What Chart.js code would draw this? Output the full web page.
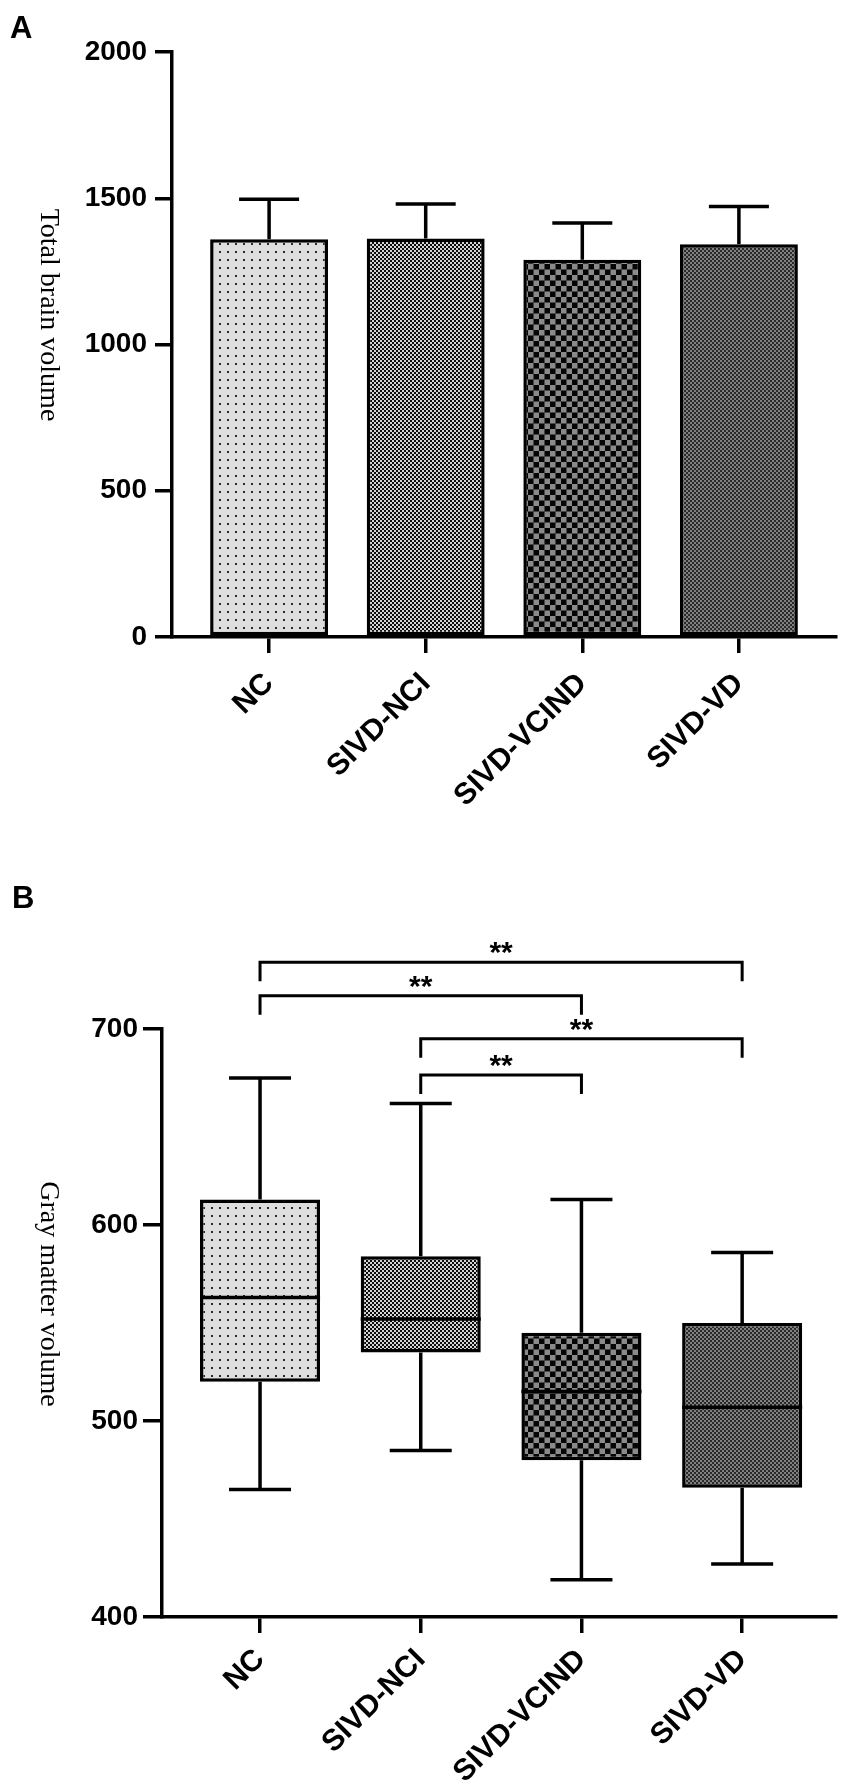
<!DOCTYPE html>
<html>
<head>
<meta charset="utf-8">
<script src="https://cdn.jsdelivr.net/npm/chart.js@4.4.1/dist/chart.umd.min.js"></script>
<style>
  html, body { margin: 0; padding: 0; background: #fff; }
  canvas { display: block; }
</style>
</head>
<body>
<canvas id="brainChart" width="854" height="860"></canvas>
<canvas id="grayChart" width="854" height="923"></canvas>
<script>
//** DATA */
const categories = ['NC', 'SIVD-NCI', 'SIVD-VCIND', 'SIVD-VD'];

// panel A: mean and SD of total brain volume
const brainMean = [1360, 1362, 1290, 1343];
const brainSD = [137, 118, 125, 129];
const brainTicks = [0, 500, 1000, 1500, 2000];

// panel B: box plot of gray matter volume
const grayMin = [465, 485, 419, 427];
const grayQ1 = [520, 535, 480, 466];
const grayMedian = [563, 552, 515, 507];
const grayQ3 = [613, 584, 545, 550];
const grayMax = [675, 662, 613, 586];
const grayTicks = [400, 500, 600, 700];

// significance brackets (group pairs, bracket height in axis units)
const sigPairs = [[0, 3], [0, 2], [1, 3], [1, 2]];
const sigLevel = [734, 717, 695, 676.5];
const sigText = ['**', '**', '**', '**'];

const tickFont = { family: "'Liberation Sans', Arial, sans-serif", size: 28, weight: 'bold' };
const catFont = { family: "'Liberation Sans', Arial, sans-serif", size: 30, weight: 'bold' };

//** FILL PATTERNS */
function makePattern(kind) {
  const c = document.createElement('canvas');
  const g = c.getContext('2d');
  if (kind === 'dots') {
    c.width = 8; c.height = 8;
    g.fillStyle = '#dedede'; g.fillRect(0, 0, 8, 8);
    g.fillStyle = '#2a2a2a'; g.fillRect(3, 3, 2, 2);
  } else if (kind === 'fine') {
    c.width = 4; c.height = 4;
    g.fillStyle = '#0c0c0c'; g.fillRect(0, 0, 4, 4);
    g.fillStyle = '#d4d4d4'; g.fillRect(0, 0, 2, 2); g.fillRect(2, 2, 2, 2);
  } else if (kind === 'coarse') {
    c.width = 11; c.height = 11;
    g.fillStyle = '#050505'; g.fillRect(0, 0, 11, 11);
    g.fillStyle = '#8a8a8a'; g.fillRect(0, 0, 5.5, 5.5); g.fillRect(5.5, 5.5, 5.5, 5.5);
  } else {
    c.width = 4; c.height = 4;
    g.fillStyle = '#2a2a2a'; g.fillRect(0, 0, 4, 4);
    g.fillStyle = '#808080'; g.fillRect(0, 0, 2, 2); g.fillRect(2, 2, 2, 2);
  }
  return g.createPattern(c, 'repeat');
}
const groupFills = [makePattern('dots'), makePattern('fine'), makePattern('coarse'), makePattern('dark')];

//** PANEL LETTER + ROTATED Y TITLE */
const panelDecor = {
  id: 'panelDecor',
  afterDraw(chart, args, opts) {
    const ctx = chart.ctx;
    ctx.save();
    ctx.fillStyle = '#000';
    ctx.font = "bold 31px 'Liberation Sans', Arial, sans-serif";
    ctx.textBaseline = 'alphabetic';
    ctx.textAlign = 'left';
    ctx.fillText(opts.letter, opts.letterX, opts.letterY);
    ctx.font = "28px 'Liberation Serif', 'Times New Roman', serif";
    ctx.translate(opts.titleX, opts.titleY);
    ctx.rotate(Math.PI / 2);
    ctx.textAlign = 'center';
    ctx.textBaseline = 'middle';
    ctx.fillText(opts.title, 0, 0);
    ctx.restore();
  }
};

//** SD ERROR BARS (upper only) */
const errorBars = {
  id: 'errorBars',
  afterDatasetsDraw(chart, args, opts) {
    if (!opts.sd) return;
    const x = chart.scales.x, y = chart.scales.y, ctx = chart.ctx;
    ctx.save();
    ctx.strokeStyle = '#000';
    ctx.lineWidth = 3.5;
    opts.mean.forEach((m, i) => {
      const px = x.getPixelForValue(i);
      const base = y.getPixelForValue(m);
      const top = y.getPixelForValue(m + opts.sd[i]);
      ctx.beginPath();
      ctx.moveTo(px, base); ctx.lineTo(px, top);
      ctx.moveTo(px - opts.cap / 2, top); ctx.lineTo(px + opts.cap / 2, top);
      ctx.stroke();
    });
    ctx.restore();
  }
};

//** WHISKERS, MEDIANS AND BRACKETS */
const boxExtras = {
  id: 'boxExtras',
  afterDatasetsDraw(chart, args, opts) {
    if (!opts.median) return;
    const x = chart.scales.x, y = chart.scales.y, ctx = chart.ctx;
    const meta = chart.getDatasetMeta(0);
    ctx.save();
    ctx.strokeStyle = '#000';
    ctx.lineWidth = 3.5;
    opts.median.forEach((md, i) => {
      const px = x.getPixelForValue(i);
      const half = meta.data[i].width / 2;
      const yMed = y.getPixelForValue(md);
      ctx.beginPath();
      ctx.moveTo(px - half, yMed); ctx.lineTo(px + half, yMed);
      // upper whisker
      ctx.moveTo(px, y.getPixelForValue(opts.q3[i])); ctx.lineTo(px, y.getPixelForValue(opts.max[i]));
      ctx.moveTo(px - opts.cap / 2, y.getPixelForValue(opts.max[i])); ctx.lineTo(px + opts.cap / 2, y.getPixelForValue(opts.max[i]));
      // lower whisker
      ctx.moveTo(px, y.getPixelForValue(opts.q1[i])); ctx.lineTo(px, y.getPixelForValue(opts.min[i]));
      ctx.moveTo(px - opts.cap / 2, y.getPixelForValue(opts.min[i])); ctx.lineTo(px + opts.cap / 2, y.getPixelForValue(opts.min[i]));
      ctx.stroke();
    });

    // significance brackets
    ctx.lineWidth = 3;
    ctx.font = "bold 30px 'Liberation Sans', Arial, sans-serif";
    ctx.fillStyle = '#000';
    ctx.textAlign = 'center';
    ctx.textBaseline = 'alphabetic';
    opts.pairs.forEach((p, k) => {
      const x1 = x.getPixelForValue(p[0]);
      const x2 = x.getPixelForValue(p[1]);
      const yl = y.getPixelForValue(opts.levels[k]);
      ctx.beginPath();
      ctx.moveTo(x1, yl + opts.drop); ctx.lineTo(x1, yl);
      ctx.lineTo(x2, yl); ctx.lineTo(x2, yl + opts.drop);
      ctx.stroke();
      const m = ctx.measureText(opts.labels[k]);
      const mid = (m.actualBoundingBoxDescent - m.actualBoundingBoxAscent) / 2;
      ctx.fillText(opts.labels[k], (x1 + x2) / 2, yl - 14 - mid);
    });
    ctx.restore();
  }
};

function xScale(min, max, height, pad) {
  return {
    type: 'linear',
    min: min,
    max: max,
    offset: false,
    afterBuildTicks: s => { s.ticks = categories.map((c, i) => ({ value: i })); },
    afterFit: s => { s.height = height; },
    grid: { display: true, offset: false, drawOnChartArea: false, drawTicks: true, tickLength: 16, lineWidth: 3.5, color: '#000' },
    border: { display: true, color: '#000', width: 3.5 },
    ticks: {
      callback: v => categories[v],
      autoSkip: false,
      minRotation: 45,
      maxRotation: 45,
      padding: pad,
      color: '#000',
      font: catFont
    }
  };
}

function yScale(min, max, width, tickLen, pad, tickValues) {
  return {
    type: 'linear',
    min: min,
    max: max,
    afterBuildTicks: s => { s.ticks = tickValues.map(v => ({ value: v })); },
    afterFit: s => { s.width = width; },
    grid: { display: true, drawOnChartArea: false, drawTicks: true, tickLength: tickLen, lineWidth: 3.5, color: '#000' },
    border: { display: true, color: '#000', width: 3.5 },
    ticks: { callback: v => String(v), padding: pad, color: '#000', font: tickFont }
  };
}

//** PANEL A: BAR CHART */
new Chart(document.getElementById('brainChart'), {
  type: 'bar',
  data: {
    datasets: [{
      data: categories.map((c, i) => ({ x: i, y: brainMean[i] })),
      backgroundColor: groupFills,
      borderColor: '#000',
      borderWidth: 3.5,
      borderSkipped: false,
      categoryPercentage: 1,
      barPercentage: 0.753
    }]
  },
  options: {
    responsive: false,
    animation: false,
    layout: { padding: { left: 0, top: 52, right: 18, bottom: 0 } },
    scales: {
      x: xScale(-0.62, 3.62, 223, 13),
      y: yScale(0, 2000, 172, 17, 8, brainTicks)
    },
    plugins: {
      legend: { display: false },
      tooltip: { enabled: false },
      panelDecor: { letter: 'A', letterX: 10, letterY: 38, title: 'Total brain volume', titleX: 48, titleY: 315 },
      errorBars: { mean: brainMean, sd: brainSD, cap: 60 }
    }
  },
  plugins: [panelDecor, errorBars]
});

//** PANEL B: BOX PLOT (boxes as floating bars) */
new Chart(document.getElementById('grayChart'), {
  type: 'bar',
  data: {
    datasets: [{
      data: categories.map((c, i) => ({ x: i, y: [grayQ1[i], grayQ3[i]] })),
      backgroundColor: groupFills,
      borderColor: '#000',
      borderWidth: 3.5,
      borderSkipped: false,
      categoryPercentage: 1,
      barPercentage: 0.747
    }]
  },
  options: {
    responsive: false,
    animation: false,
    layout: { padding: { left: 0, top: 169, right: 18, bottom: 0 } },
    scales: {
      x: xScale(-0.61, 3.584, 166, 9),
      y: yScale(400, 700, 162, 19, 5, grayTicks)
    },
    plugins: {
      legend: { display: false },
      tooltip: { enabled: false },
      panelDecor: { letter: 'B', letterX: 12, letterY: 48, title: 'Gray matter volume', titleX: 48, titleY: 434 },
      boxExtras: {
        min: grayMin, q1: grayQ1, median: grayMedian, q3: grayQ3, max: grayMax, cap: 62,
        pairs: sigPairs, levels: sigLevel, labels: sigText, drop: 19
      }
    }
  },
  plugins: [panelDecor, boxExtras]
});
</script>
</body>
</html>
